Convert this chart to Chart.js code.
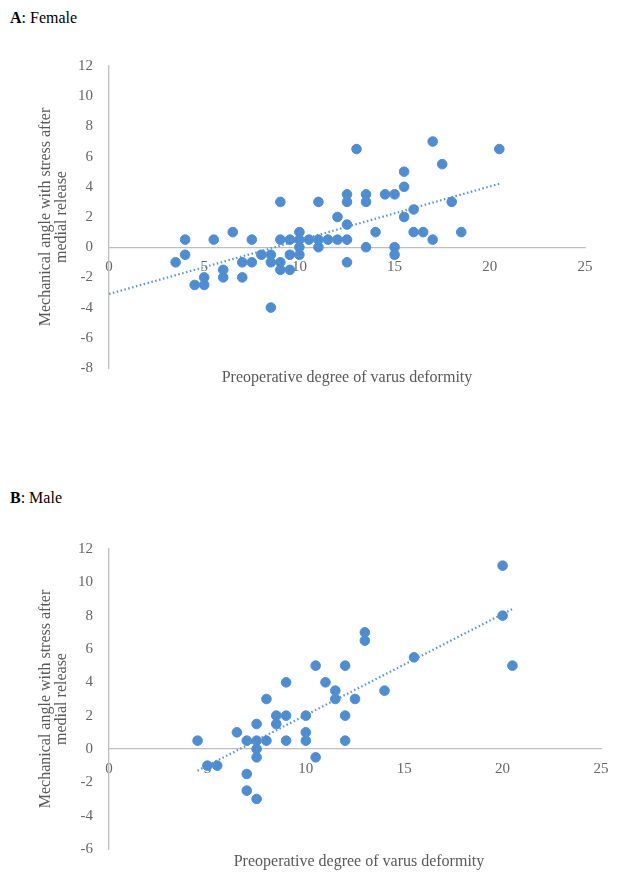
<!DOCTYPE html>
<html>
<head>
<meta charset="utf-8">
<script src="https://cdn.jsdelivr.net/npm/chart.js@4"></script>
<style>
  body { margin: 0; background: #fff; width: 622px; height: 874px; position: relative; font-family: "Liberation Serif", serif; overflow: hidden; }
  .panel { position: absolute; left: 10px; font-size: 16px; color: #000; }
  .box { position: absolute; left: 0; width: 622px; }
  .xtitle { position: absolute; text-align: center; font-size: 16px; color: #595959; }
</style>
</head>
<body>
<div class="panel" style="top:9px"><b>A</b>: Female</div>
<div class="box" style="top:41px; height:352px"><canvas id="female"></canvas></div>
<div class="xtitle" style="top:368px; left:109px; width:476px">Preoperative degree of varus deformity</div>

<div class="panel" style="top:489px"><b>B</b>: Male</div>
<div class="box" style="top:524px; height:350px"><canvas id="male"></canvas></div>
<div class="xtitle" style="top:852px; left:109px; width:500px">Preoperative degree of varus deformity</div>

<script>
const femaleDeg = [3.5, 4, 4, 4.5, 5, 5, 5.5, 6, 6, 6.5, 7, 7, 7.5, 7.5, 8, 8.5, 8.5, 8.5, 9, 9, 9, 9,
  9.5, 9.5, 9.5, 10, 10, 10, 10, 10.5, 11, 11, 11, 11.5, 12, 12, 12.5, 12.5, 12.5, 12.5, 12.5,
  13, 13.5, 13.5, 13.5, 14, 14.5, 15, 15, 15, 15.5, 15.5, 15.5, 16, 16, 16.5, 17, 17, 17.5, 18, 18.5, 20.5];
const femaleAngle = [-1, 0.5, -0.5, -2.5, -2.5, -2, 0.5, -1.5, -2, 1, -1, -2, 0.5, -1, -0.5, -0.5, -1, -4, 3, 0.5, -1, -1.5,
  0.5, -0.5, -1.5, 1, 0.5, 0, -0.5, 0.5, 3, 0.5, 0, 0.5, 2, 0.5, 3.5, 3, 1.5, 0.5, -1,
  6.5, 3.5, 3, 0, 1, 3.5, 3.5, 0, -0.5, 5, 4, 2, 2.5, 1, 1, 7, 0.5, 5.5, 3, 1, 6.5];
const femaleTrendX = [0, 20.5];
const femaleTrendY = [-3.1, 4.2];

const maleDeg = [4.5, 5, 5.5, 6.5, 7, 7, 7, 7.5, 7.5, 7.5, 7.5, 7.5, 8, 8, 8.5, 8.5, 9, 9, 9,
  10, 10, 10, 10.5, 10.5, 11, 11.5, 11.5, 12, 12, 12, 12.5, 13, 13, 14, 15.5, 20, 20, 20.5];
const maleAngle = [0.5, -1, -1, 1, 0.5, -1.5, -2.5, 1.5, 0.5, 0, -0.5, -3, 0.5, 3, 2, 1.5, 2, 0.5, 4,
  2, 1, 0.5, -0.5, 5, 4, 3.5, 3, 5, 2, 0.5, 3, 7, 6.5, 3.5, 5.5, 11, 8, 5];
const maleTrendX = [4.5, 20.5];
const maleTrendY = [-1.3, 8.4];

const xTicks = { min: 0, max: 25, step: 5 };
const femaleYTicks = { min: -8, max: 12, step: 2 };
const maleYTicks = { min: -6, max: 12, step: 2 };
const yTitle = ['Mechanical angle with stress after', 'medial release'];

const BLUE = '#4d8dd3';
const tickFont = { family: 'Liberation Serif', size: 15 };

function toPoints(xs, ys) {
  return xs.map((x, i) => ({ x, y: ys[i] }));
}

function drawChart(id, xs, ys, tx, ty, yt, rightPad) {
  new Chart(document.getElementById(id), {
    type: 'scatter',
    data: {
      datasets: [
        {
          data: toPoints(xs, ys),
          backgroundColor: BLUE,
          borderColor: BLUE,
          pointRadius: 4.8,
          pointHoverRadius: 4.8,
          order: 0
        },
        {
          type: 'line',
          data: toPoints(tx, ty),
          borderColor: '#5b93cf',
          borderWidth: 2.2,
          borderDash: [1.5, 2.5],
          pointRadius: 0,
          fill: false,
          order: 1
        }
      ]
    },
    options: {
      responsive: true,
      maintainAspectRatio: false,
      animation: false,
      layout: { padding: { left: 38, right: rightPad, top: 15, bottom: 15 } },
      plugins: { legend: { display: false }, tooltip: { enabled: false } },
      scales: {
        x: {
          type: 'linear',
          position: { y: 0 },
          min: xTicks.min,
          max: xTicks.max,
          grid: { display: false, drawTicks: false },
          border: { color: '#bfbfbf', width: 1.3 },
          ticks: { stepSize: xTicks.step, padding: 11, color: '#666', font: tickFont, maxRotation: 0 }
        },
        y: {
          type: 'linear',
          min: yt.min,
          max: yt.max,
          afterFit: s => { s.width = 71; },
          grid: { display: false, drawTicks: false },
          border: { color: '#bfbfbf', width: 1.3 },
          ticks: { stepSize: yt.step, padding: 16, color: '#666', font: tickFont },
          title: {
            display: true,
            text: yTitle,
            color: '#595959',
            font: { family: 'Liberation Serif', size: 16, lineHeight: 1.0 },
            padding: 0
          }
        }
      }
    }
  });
}

drawChart('female', femaleDeg, femaleAngle, femaleTrendX, femaleTrendY, femaleYTicks, 37);
drawChart('male', maleDeg, maleAngle, maleTrendX, maleTrendY, maleYTicks, 21);
</script>
</body>
</html>
